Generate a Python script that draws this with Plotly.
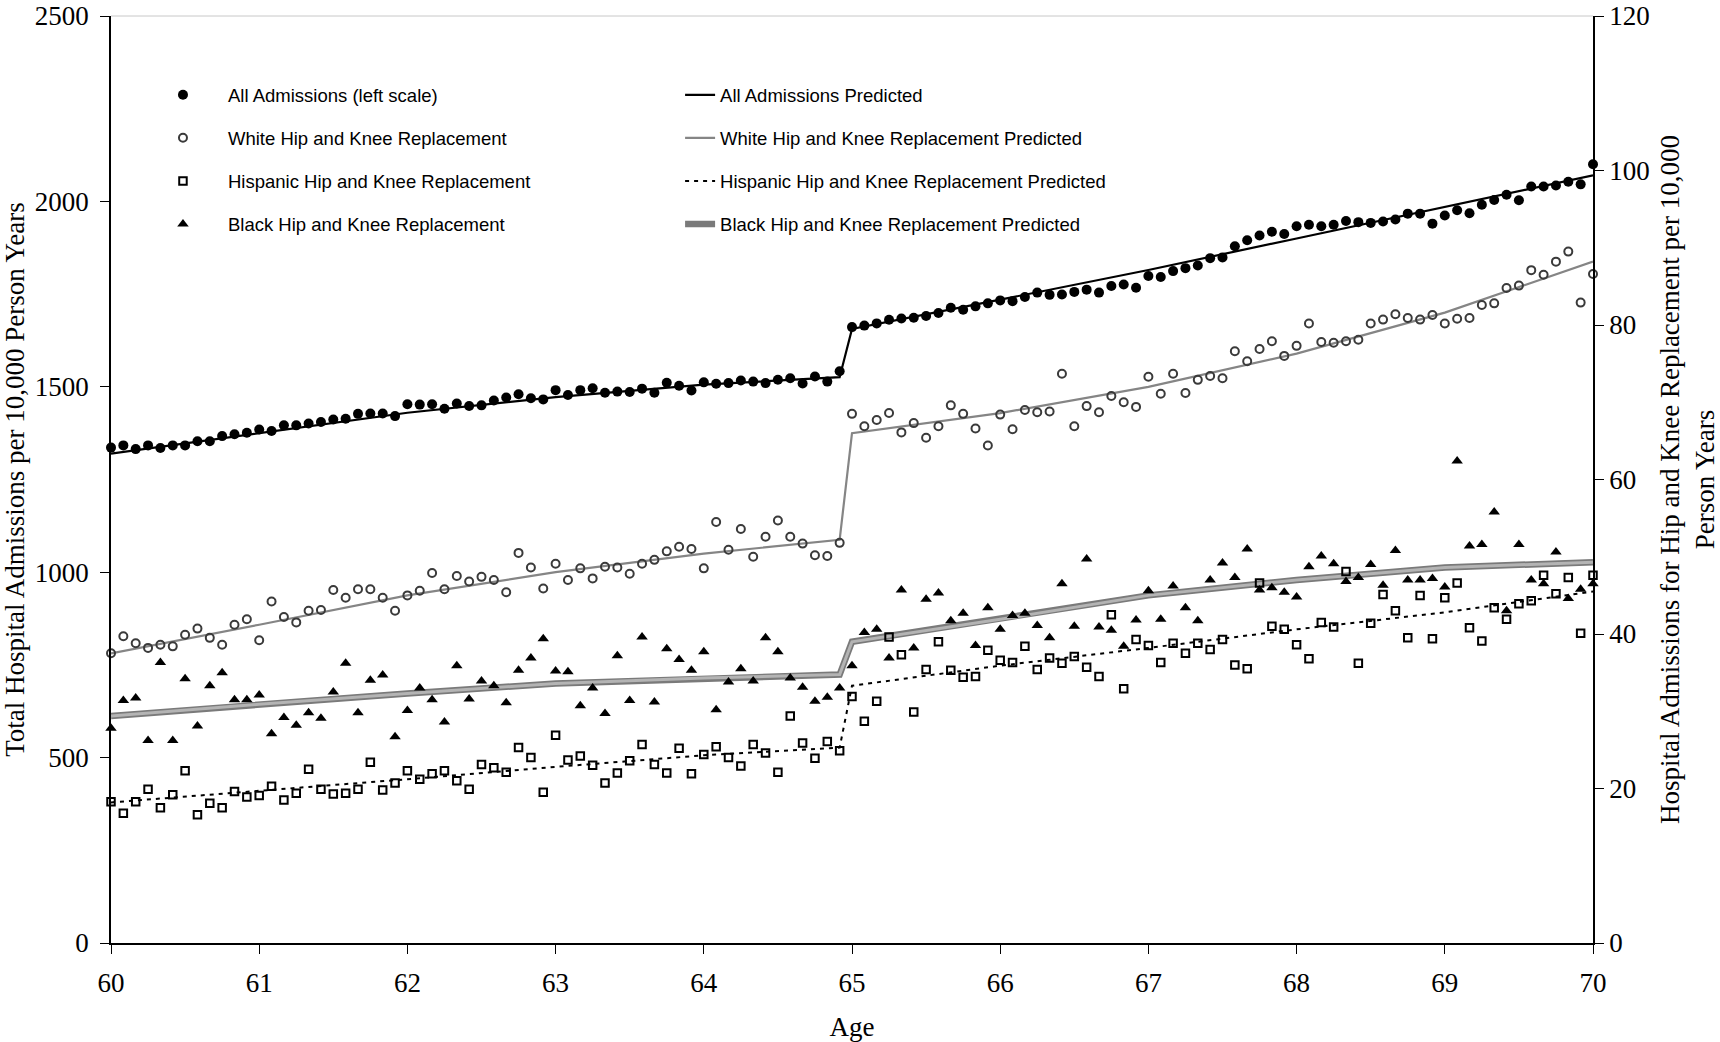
import plotly.graph_objects as go

# Monthly ages 60.0 .. 70.0 (121 points)
ages = [60 + i / 12 for i in range(121)]

all_adm = [1336, 1342, 1332, 1342, 1335, 1342, 1342, 1353, 1353, 1367, 1372, 1376, 1385, 1381, 1396, 1396,
           1401, 1405, 1412, 1414, 1427, 1428, 1428, 1421, 1453, 1452, 1453, 1441, 1455, 1448, 1450, 1463,
           1471, 1480, 1469, 1466, 1491, 1478, 1491, 1496, 1484, 1487, 1486, 1495, 1484, 1511, 1503, 1490,
           1512, 1508, 1510, 1517, 1514, 1510, 1519, 1523, 1509, 1528, 1514, 1542, 1661, 1665, 1671, 1681,
           1684, 1686, 1691, 1699, 1713, 1708, 1717, 1725, 1733, 1731, 1742, 1754, 1748, 1749, 1756, 1762,
           1754, 1772, 1776, 1767, 1799, 1796, 1812, 1820, 1827, 1847, 1849, 1879, 1895, 1908, 1918, 1912,
           1933, 1937, 1933, 1937, 1947, 1944, 1942, 1946, 1951, 1967, 1967, 1940, 1962, 1976, 1968, 1991,
           2004, 2018, 2003, 2040, 2040, 2043, 2053, 2046, 2100]

white = [37.5, 39.7, 38.8, 38.2, 38.6, 38.4, 39.9, 40.7, 39.5, 38.6, 41.2, 41.9, 39.2, 44.2, 42.2, 41.5,
         43.0, 43.1, 45.7, 44.7, 45.8, 45.8, 44.7, 43.0, 45.0, 45.6, 47.9, 45.8, 47.5, 46.8, 47.4, 47.0,
         45.4, 50.5, 48.6, 45.9, 49.1, 47.0, 48.5, 47.2, 48.7, 48.6, 47.8, 49.1, 49.6, 50.7, 51.3, 51.0,
         48.5, 54.5, 50.9, 53.6, 50.0, 52.6, 54.7, 52.6, 51.7, 50.2, 50.1, 51.8, 68.5, 66.9, 67.7, 68.6,
         66.1, 67.3, 65.4, 66.9, 69.6, 68.5, 66.6, 64.4, 68.4, 66.5, 69.0, 68.7, 68.8, 73.7, 66.9, 69.5,
         68.7, 70.8, 70.0, 69.4, 73.3, 71.1, 73.7, 71.2, 72.9, 73.4, 73.1, 76.6, 75.3, 76.9, 77.9, 76.0,
         77.3, 80.2, 77.8, 77.7, 77.9, 78.1, 80.2, 80.7, 81.4, 80.9, 80.7, 81.3, 80.2, 80.8, 80.9, 82.6,
         82.8, 84.8, 85.1, 87.1, 86.5, 88.2, 89.5, 82.9, 86.6]

hispanic = [18.3, 16.8, 18.3, 19.9, 17.5, 19.2, 22.3, 16.6, 18.1, 17.5, 19.6, 18.9, 19.1, 20.3, 18.5, 19.4,
            22.5, 19.9, 19.3, 19.4, 19.9, 23.4, 19.8, 20.7, 22.3, 21.2, 21.9, 22.3, 21.0, 19.9, 23.1, 22.7,
            22.1, 25.3, 24.0, 19.5, 26.9, 23.7, 24.2, 23.0, 20.7, 22.0, 23.6, 25.7, 23.1, 22.0, 25.2, 21.9,
            24.4, 25.4, 24.0, 22.9, 25.7, 24.6, 22.1, 29.4, 25.9, 23.9, 26.1, 24.9, 31.9, 28.7, 31.3, 39.6,
            37.3, 29.9, 35.4, 39.0, 35.3, 34.4, 34.5, 37.9, 36.6, 36.3, 38.4, 35.4, 36.9, 36.2, 37.1, 35.7,
            34.5, 42.5, 32.9, 39.3, 38.5, 36.3, 38.8, 37.5, 38.8, 38.0, 39.3, 36.0, 35.5, 46.6, 41.0, 40.6,
            38.6, 36.8, 41.5, 40.9, 48.1, 36.2, 41.4, 45.1, 43.0, 39.5, 45.0, 39.4, 44.7, 46.6, 40.8, 39.1,
            43.4, 41.9, 43.9, 44.3, 47.6, 45.2, 47.3, 40.1, 47.6]

black = [27.8, 31.4, 31.7, 26.2, 36.3, 26.2, 34.2, 28.1, 33.3, 35.0, 31.5, 31.5, 32.1, 27.1, 29.2, 28.2,
         29.8, 29.1, 32.5, 36.2, 29.8, 34.0, 34.7, 26.7, 30.1, 33.0, 31.5, 28.6, 35.9, 31.6, 33.9, 33.3,
         31.1, 35.3, 36.9, 39.4, 35.2, 35.1, 30.7, 33.0, 29.7, 37.2, 31.4, 39.6, 31.2, 38.1, 36.7, 35.3,
         37.7, 30.2, 33.8, 35.5, 33.9, 39.5, 37.7, 34.3, 33.1, 31.3, 31.8, 33.0, 35.9, 40.2, 40.6, 36.9,
         45.7, 38.2, 44.5, 45.3, 41.7, 42.7, 38.5, 43.4, 40.6, 42.4, 42.7, 41.1, 39.5, 46.5, 41.0, 49.7,
         40.9, 40.5, 38.4, 41.8, 45.6, 41.9, 46.2, 43.4, 41.7, 47.0, 49.2, 47.3, 51.0, 45.7, 46.0, 45.4,
         44.8, 48.7, 50.1, 49.1, 46.8, 47.3, 49.0, 46.3, 50.8, 47.0, 47.0, 47.2, 46.1, 62.4, 51.4, 51.6,
         55.8, 43.0, 51.6, 47.0, 46.5, 50.6, 44.6, 45.8, 46.5]

# Predicted (fitted) curves, read at knot ages
pred_ages = [60, 61, 62, 63, 64, 64 + 11 / 12, 65, 66, 67, 68, 69, 70]
all_pred = [1320, 1375, 1430, 1472, 1506, 1526, 1656, 1735, 1815, 1900, 1985, 2070]
white_pred = [37.5, 41.2, 45.0, 48.0, 50.4, 52.2, 66.0, 68.6, 72.0, 76.3, 81.6, 88.2]
hisp_pred = [18.2, 19.7, 21.2, 22.8, 24.3, 25.3, 33.3, 35.9, 38.2, 40.6, 42.8, 45.5]
black_pred = [29.4, 30.9, 32.3, 33.6, 34.3, 34.75, 39.0, 41.9, 45.0, 47.0, 48.6, 49.3]

SERIF = "Liberation Serif, Times New Roman, serif"
SANS = "Liberation Sans, Arial, sans-serif"

fig = go.Figure()

# Predicted lines (second legend column)
fig.add_trace(go.Scatter(x=pred_ages, y=black_pred, yaxis="y2", mode="lines",
                         line=dict(color="#7a7a7a", width=6.5), name="Black Hip and Knee Replacement Predicted",
                         legend="legend2", legendgroup="bp", legendrank=4, cliponaxis=False))
fig.add_trace(go.Scatter(x=pred_ages, y=black_pred, yaxis="y2", mode="lines",
                         line=dict(color="#b4b4b4", width=3), showlegend=False, hoverinfo="skip",
                         legendgroup="bp", cliponaxis=False))
fig.add_trace(go.Scatter(x=pred_ages, y=hisp_pred, yaxis="y2", mode="lines",
                         line=dict(color="black", width=2, dash="4px,5px"),
                         name="Hispanic Hip and Knee Replacement Predicted",
                         legend="legend2", legendgroup="hp", legendrank=3, cliponaxis=False))
fig.add_trace(go.Scatter(x=pred_ages, y=white_pred, yaxis="y2", mode="lines",
                         line=dict(color="#858585", width=2.2),
                         name="White Hip and Knee Replacement Predicted",
                         legend="legend2", legendgroup="wp", legendrank=2, cliponaxis=False))
fig.add_trace(go.Scatter(x=pred_ages, y=all_pred, yaxis="y", mode="lines",
                         line=dict(color="black", width=2.2), name="All Admissions Predicted",
                         legend="legend2", legendgroup="ap", legendrank=1, cliponaxis=False))

# Observed markers (first legend column)
fig.add_trace(go.Scatter(x=ages, y=all_adm, yaxis="y", mode="markers",
                         marker=dict(symbol="circle", size=10, color="black"),
                         name="All Admissions (left scale)", legend="legend", legendgroup="a",
                         legendrank=1, cliponaxis=False))
fig.add_trace(go.Scatter(x=ages, y=white, yaxis="y2", mode="markers",
                         marker=dict(symbol="circle-open", size=8, color="#3a3a3a", line=dict(width=2)),
                         name="White Hip and Knee Replacement", legend="legend", legendgroup="w",
                         legendrank=2, cliponaxis=False))
fig.add_trace(go.Scatter(x=ages, y=hispanic, yaxis="y2", mode="markers",
                         marker=dict(symbol="square-open", size=7.5, color="black", line=dict(width=2)),
                         name="Hispanic Hip and Knee Replacement", legend="legend", legendgroup="h",
                         legendrank=3, cliponaxis=False))
fig.add_trace(go.Scatter(x=ages, y=black, yaxis="y2", mode="markers",
                         marker=dict(symbol="triangle-up", size=10, color="black"),
                         name="Black Hip and Knee Replacement", legend="legend", legendgroup="b",
                         legendrank=4, cliponaxis=False))

axis_common = dict(showgrid=False, zeroline=False, showline=True, linecolor="black", linewidth=1.5,
                   ticks="outside", ticklen=9, tickwidth=1.3, tickcolor="black",
                   ticklabeloverflow="allow", automargin=False,
                   tickfont=dict(family=SERIF, size=27, color="black"))

fig.update_layout(
    width=1720, height=1042,
    margin=dict(l=111, r=127, t=16, b=99),
    paper_bgcolor="white", plot_bgcolor="white",
    showlegend=True,
    xaxis=dict(range=[60, 70], tick0=60, dtick=1, ticklabelstandoff=6,
               title=dict(text="Age", font=dict(family=SERIF, size=27, color="black"), standoff=22),
               **axis_common),
    yaxis=dict(range=[0, 2500], tick0=0, dtick=500, ticklabelstandoff=6,
               title=dict(text="Total Hospital Admissions per 10,000 Person Years",
                          font=dict(family=SERIF, size=27, color="black"), standoff=11),
               **axis_common),
    yaxis2=dict(range=[0, 120], tick0=0, dtick=20, overlaying="y", side="right", ticklabelstandoff=0,
                title=dict(text="Hospital Admissions for Hip and Knee Replacement per 10,000<br>Person Years",
                           font=dict(family=SERIF, size=27, color="black"), standoff=26),
                **axis_common),
    legend=dict(x=0.0182, y=0.935, xanchor="left", yanchor="top", traceorder="grouped",
                tracegroupgap=16, itemwidth=80, bgcolor="rgba(0,0,0,0)",
                font=dict(family=SANS, size=18.5, color="black")),
    legend2=dict(x=0.384, y=0.935, xanchor="left", yanchor="top", traceorder="grouped",
                 tracegroupgap=16, bgcolor="rgba(0,0,0,0)",
                 font=dict(family=SANS, size=18.5, color="black")),
    # faint grey plot-area frame along the top edge
    shapes=[dict(type="line", xref="paper", yref="paper", x0=0, x1=1, y0=1, y1=1,
                 line=dict(color="#c8c8c8", width=1), layer="below")],
)

fig.write_html("out.html", config={"displayModeBar": False},
               post_script="document.body.style.margin='0';")
